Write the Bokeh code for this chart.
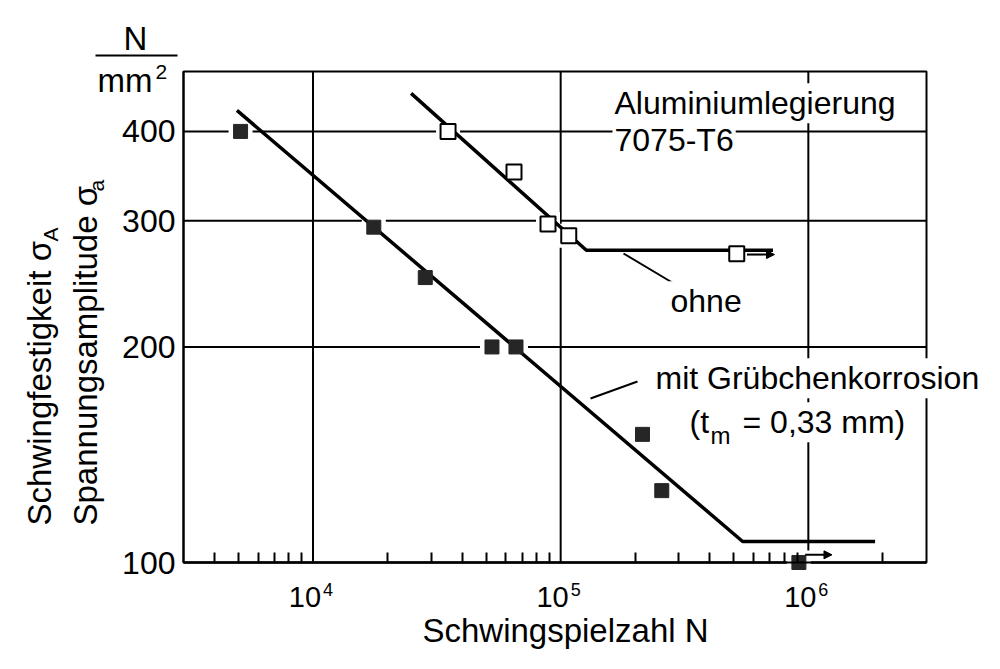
import numpy as np
from bokeh.plotting import figure
from bokeh.models import Range1d, FixedTicker, Label, Arrow, NormalHead
from bokeh.embed import file_html
from bokeh.resources import INLINE

FONT = "Liberation Sans"

# ---------------- data ----------------
# specimens with pitting corrosion (filled squares)
N_mit = [5100, 17600, 28400, 52800, 66000, 214000, 256000, 916000]
S_mit = [400, 294, 250, 200, 200, 151, 126, 100]
# specimens without corrosion (open squares)
N_ohne = [35100, 64800, 88900, 107800, 514000]
S_ohne = [400, 351, 297, 286, 270]
# Woehler lines
N_mit_line = [4930, 543000, 1860000]
S_mit_line = [428, 107, 107]
N_ohne_line = [24900, 127000, 720000]
S_ohne_line = [452, 273, 273]
# axis ticks
x_major = [10000, 100000, 1000000]
x_base = ["10\u00a0\u00a0", "10\u00a0\u00a0", "10\u00a0\u00a0"]
x_exp = ["4", "5", "6"]
x_minor = [4000, 5000, 6000, 7000, 8000, 9000,
           20000, 30000, 40000, 50000, 60000, 70000, 80000, 90000,
           200000, 300000, 400000, 500000, 600000, 700000, 800000, 900000,
           2000000]
y_major = [100, 200, 300, 400]
y_labels = ["100", "200", "300", "400"]

# visible diagram box (data)
x_lo, x_hi = 3000, 3000000
y_lo, y_hi = 100, 485

# ---------------- layout (page pixels) ----------------
W, H = 1000, 669
FL, FR, FT, FB = 183, 926, 71, 562          # where the diagram box sits on the page
lx0, lx1 = np.log10(x_lo), np.log10(x_hi)
ly0, ly1 = np.log10(y_lo), np.log10(y_hi)


def X(px):  # page x -> data
    return 10 ** (lx0 + (px - FL) * (lx1 - lx0) / (FR - FL))


def Y(py):  # page y -> data
    return 10 ** (ly0 + (FB - py) * (ly1 - ly0) / (FB - FT))


p = figure(width=W, height=H, x_axis_type="log", y_axis_type="log",
           x_range=Range1d(X(0), X(W)), y_range=Range1d(Y(H), Y(0)),
           output_backend="svg", toolbar_location=None, title=None,
           min_border=0, min_border_left=0, min_border_right=0,
           min_border_top=0, min_border_bottom=0)
p.outline_line_color = None
p.background_fill_color = "white"
p.border_fill_color = "white"
p.xgrid.visible = False
p.ygrid.visible = False

xa = p.xaxis[0]
xa.fixed_location = y_lo
xa.bounds = (x_lo, x_hi)
xa.ticker = FixedTicker(ticks=x_major, minor_ticks=x_minor)
xa.major_label_overrides = {t: s for t, s in zip(x_major, x_base)}
xa.major_tick_in = 0
xa.major_tick_out = 0
xa.minor_tick_in = 10
xa.minor_tick_out = 0
xa.minor_tick_line_width = 2
xa.minor_tick_line_color = "black"
xa.axis_line_width = 2
xa.axis_line_color = "black"
xa.major_label_text_font = FONT
xa.major_label_text_font_size = "29px"
xa.major_label_text_color = "black"
xa.major_label_standoff = 18

ya = p.yaxis[0]
ya.fixed_location = x_lo
ya.bounds = (y_lo, y_hi)
ya.ticker = FixedTicker(ticks=y_major, minor_ticks=[])
ya.major_label_overrides = {t: s for t, s in zip(y_major, y_labels)}
ya.major_tick_in = 0
ya.major_tick_out = 0
ya.minor_tick_in = 0
ya.minor_tick_out = 0
ya.axis_line_width = 2
ya.axis_line_color = "black"
ya.major_label_text_font = FONT
ya.major_label_text_font_size = "32px"
ya.major_label_text_color = "black"
ya.major_label_standoff = 8

# grid lines at the major ticks, limited to the diagram box
p.segment(x0=x_major, y0=[y_lo] * len(x_major), x1=x_major, y1=[y_hi] * len(x_major),
          line_color="black", line_width=2)
p.segment(x0=[x_lo] * len(y_major), y0=y_major, x1=[x_hi] * len(y_major), y1=y_major,
          line_color="black", line_width=2)
# diagram box
p.quad(left=[x_lo], right=[x_hi], bottom=[y_lo], top=[y_hi],
       fill_color=None, line_color="black", line_width=2)

# white gaps in the grid around the data points
p.scatter(N_mit, S_mit, marker="square", size=24, fill_color="white", line_color=None)
p.scatter(N_ohne, S_ohne, marker="square", size=24, fill_color="white", line_color=None)

# Woehler lines
p.line(N_mit_line, S_mit_line, line_color="black", line_width=3.5)
p.line(N_ohne_line, S_ohne_line, line_color="black", line_width=3.5)

# points
p.scatter(N_mit, S_mit, marker="square", size=14, fill_color="#262626", line_color="#262626")
p.scatter(N_ohne, S_ohne, marker="square", size=15, fill_color="white",
          line_color="black", line_width=2)

# run-out arrows (last points)
p.add_layout(Arrow(x_start=N_mit[-1] * 1.06, y_start=S_mit[-1] * 1.025,
                   x_end=N_mit[-1] * 1.36, y_end=S_mit[-1] * 1.025,
                   line_width=2, end=NormalHead(size=8, fill_color="black", line_color="black")))
p.add_layout(Arrow(x_start=N_ohne[-1] * 1.1, y_start=S_ohne[-1] * 0.997,
                   x_end=N_ohne[-1] * 1.42, y_end=S_ohne[-1] * 0.997,
                   line_width=2, end=NormalHead(size=8, fill_color="black", line_color="black")))


def seg(x0, y0, x1, y1, w=2):
    p.add_layout(Arrow(x_start=X(x0), y_start=Y(y0), x_end=X(x1), y_end=Y(y1),
                       line_width=w, line_color="black", end=None))


# leader lines
seg(623, 253, 675, 284)
seg(590, 398, 637, 381)

SHIFT = 0.35  # measured offset of the rendered baseline (fraction of font size)


def lab(text, px, py, size=32, align="left", angle=0, bg=None, pad=2):
    if angle:
        px = px - SHIFT * size
    else:
        py = py - SHIFT * size
    kw = dict(x=X(px), y=Y(py), text=text, text_font=FONT,
              text_font_size=f"{size}px", text_color="black", text_align=align,
              text_baseline="alphabetic", angle=angle)
    if bg:
        kw.update(background_fill_color=bg, padding=pad)
    p.add_layout(Label(**kw))


# exponents of the x tick labels (placed at the tick values, shifted right)
for t, e in zip(x_major, x_exp):
    p.add_layout(Label(x=t, y=Y(595 - SHIFT * 18), x_offset=10, text=e, text_font=FONT,
                       text_font_size="18px", text_color="black", text_align="left",
                       text_baseline="alphabetic"))

# annotations inside the diagram
lab("Aluminiumlegierung", 612, 114, bg="white")
lab("7075-T6", 612, 151, bg="white")
lab("ohne", 668, 312, bg="white")
lab("mit Grübchenkorrosion", 653, 389, bg="white")
lab("(t", 687, 433, bg="white")
lab("m", 709, 443, size=24, bg="white", pad=1)
lab("= 0,33 mm)", 740, 433, bg="white")

# unit N/mm^2
lab("N", 135, 50, size=33, align="center")
seg(95, 55, 177, 55)
lab("mm", 97, 92, size=33)
lab("2", 155, 79, size=21)

# y axis titles (rotated)
lab("Schwingfestigkeit σ", 51, 525, size=33, angle=np.pi / 2)
lab("A", 57, 241, size=21, angle=np.pi / 2)
lab("Spannungsamplitude σ", 97, 525, size=33, angle=np.pi / 2)
lab("a", 103, 191, size=21, angle=np.pi / 2)

# x axis title
lab("Schwingspielzahl N", 565, 642, size=33, align="center")

open("out.html", "w").write(file_html(p, INLINE))
